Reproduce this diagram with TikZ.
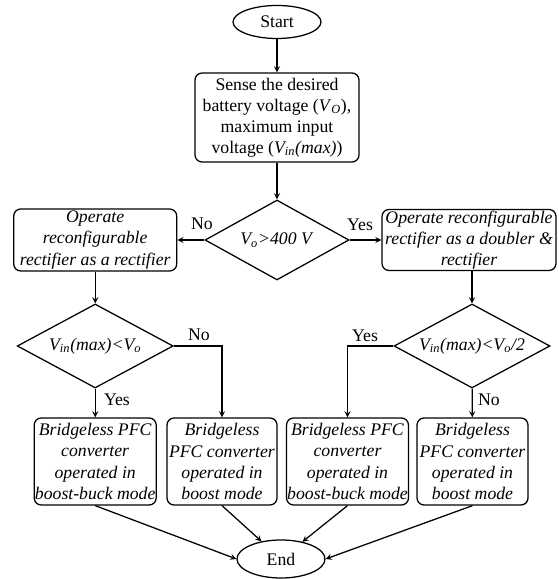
\documentclass[tikz,border=0pt]{standalone}
\usepackage{fontspec}
\setmainfont{Liberation Serif}
\usetikzlibrary{shapes,shapes.geometric,arrows,calc,positioning}

\begin{document}
\begin{tikzpicture}[font=\fontsize{12.6}{15}\selectfont, line width=0.9pt, >=stealth,
  term/.style={ellipse,draw,inner sep=0pt,minimum width=2.2cm},
  blk/.style={rectangle,draw,rounded corners=5pt,align=center,inner sep=0.5pt},
  dec/.style={diamond,draw,aspect=1.9,inner sep=0pt,minimum width=3.9cm,minimum height=2.1cm}]
\useasboundingbox (0,0) rectangle (13.95,14.475);
\node[term,minimum height=0.825cm] at (6.925,13.925) (start) {Start};
\node[blk,minimum width=4.1cm,minimum height=2.225cm] at (6.925,11.5375) (sense) {Sense the desired\\battery voltage (\textit{V}\textsubscript{\textit{O}}),\\maximum input\\voltage (\textit{V\textsubscript{in}(max)})};
\node[dec,minimum width=3.6cm,minimum height=2cm] at (6.925,8.475) (check) {\textit{V\textsubscript{o}>400 V}};
\node[blk,minimum width=4.075cm,minimum height=1.55cm] at (2.38,8.475) (rect) {\textit{Operate}\\\textit{reconfigurable}\\\textit{rectifier as a rectifier}};
\node[blk,minimum width=4.35cm,minimum height=1.525cm] at (11.725,8.475) (doub) {\textit{Operate reconfigurable}\\\textit{rectifier as a doubler \&}\\\textit{rectifier}};
\node[dec] at (2.38,5.825) (cmpa) {\textit{V\textsubscript{in}(max)<V\textsubscript{o}}};
\node[dec] at (11.8,5.825) (cmpb) {\textit{V\textsubscript{in}(max)<V\textsubscript{o}/2}};
\node[blk,minimum width=3.05cm,minimum height=2.175cm] at (2.38,2.9375) (bba) {\textit{Bridgeless PFC}\\\textit{converter}\\\textit{operated in}\\\textit{boost-buck mode}};
\node[blk,minimum width=2.75cm,minimum height=2.175cm] at (5.55,2.9375) (boa) {\textit{Bridgeless}\\\textit{PFC converter}\\\textit{operated in}\\\textit{boost mode}};
\node[blk,minimum width=3.025cm,minimum height=2.175cm] at (8.6875,2.9375) (bbb) {\textit{Bridgeless PFC}\\\textit{converter}\\\textit{operated in}\\\textit{boost-buck mode}};
\node[blk,minimum width=2.775cm,minimum height=2.175cm] at (11.8125,2.9375) (bob) {\textit{Bridgeless}\\\textit{PFC converter}\\\textit{operated in}\\\textit{boost mode}};
\node[term,minimum height=0.95cm] at (7.025,0.5) (stop) {End};
% labels
\node at (5.05,8.875) (no1) {No};
\node at (9.0,8.85) (yes1) {Yes};
\node at (4.975,6.1) (no2) {No};
\node at (9.125,6.075) (yes2) {Yes};
\node at (2.925,4.475) (yes3) {Yes};
\node at (12.225,4.475) (no3) {No};
% arrows
\draw[->] (start) -- (sense);
\draw[->] (sense) -- (check);
\draw[->] (check.west) -- (rect.east);
\draw[->] (check.east) -- (doub.west);
\draw[->] (rect) -- (cmpa);
\draw[->] (cmpb.north |- doub.south) -- (cmpb);
\draw[->] (cmpa.east) -| (boa.north);
\draw[->] (cmpb.west) -| (bbb.north);
\draw[->] (cmpa) -- (bba);
\draw[->] (cmpb) -- (bob);
\draw[->] (bba.south) -- (stop.west);
\draw[->] (boa.south) -- (stop);
\draw[->] (bbb.south) -- (stop);
\draw[->] (bob.south) -- (stop.east);
\end{tikzpicture}
\end{document}
